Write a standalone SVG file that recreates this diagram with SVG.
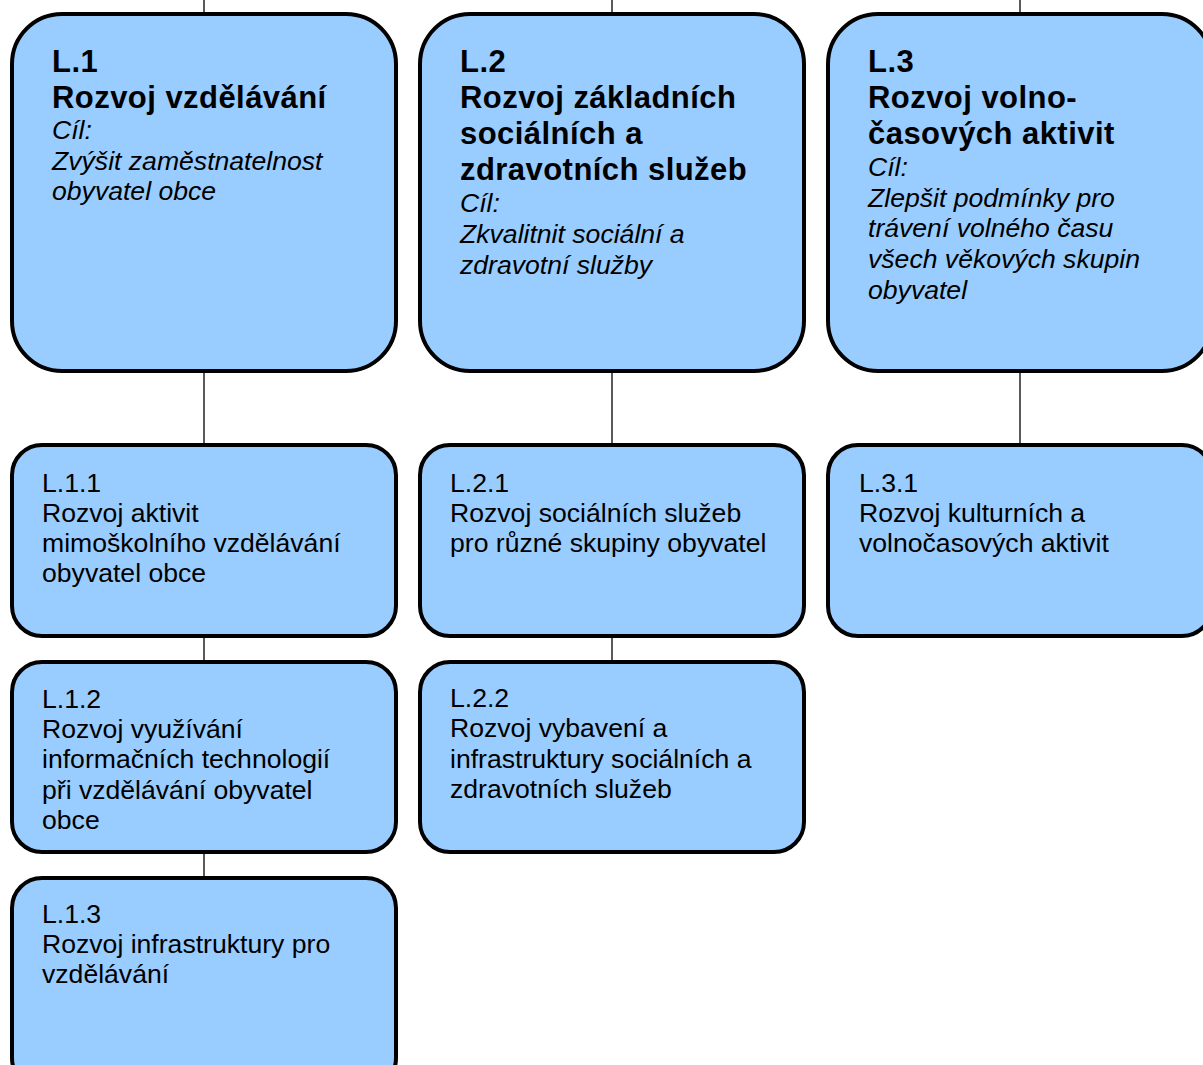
<svg xmlns="http://www.w3.org/2000/svg" width="1203" height="1065" viewBox="0 0 1203 1065">
<style>
.box{fill:#99CCFF;stroke:#000;stroke-width:4}
.ln{stroke:#000;stroke-width:1.3;fill:none}
.b{font-family:"Liberation Sans",Arial,sans-serif;font-weight:bold;font-size:31px;letter-spacing:0.45px;fill:#000}
.i{font-family:"Liberation Sans",Arial,sans-serif;font-style:italic;font-size:26.6px;fill:#000}
.n{font-family:"Liberation Sans",Arial,sans-serif;font-size:26.6px;fill:#000}
</style>
<rect width="1203" height="1065" fill="#fff"/>
<g id="connectors">
<line class="ln" x1="204" y1="0" x2="204" y2="14"/>
<line class="ln" x1="612" y1="0" x2="612" y2="14"/>
<line class="ln" x1="1020" y1="0" x2="1020" y2="14"/>
<line class="ln" x1="204" y1="371" x2="204" y2="445"/>
<line class="ln" x1="612" y1="371" x2="612" y2="445"/>
<line class="ln" x1="1020" y1="371" x2="1020" y2="445"/>
<line class="ln" x1="204" y1="636" x2="204" y2="662"/>
<line class="ln" x1="204" y1="852" x2="204" y2="878"/>
<line class="ln" x1="612" y1="636" x2="612" y2="662"/>
</g>
<g id="L1">
<rect class="box" x="12" y="14" width="384" height="357" rx="50" ry="50"/>
<text class="b" x="52" y="72">L.1</text>
<text class="b" x="52" y="108">Rozvoj vzdělávání</text>
<text class="i" x="52" y="139">Cíl:</text>
<text class="i" x="52" y="170">Zvýšit zaměstnatelnost</text>
<text class="i" x="52" y="200">obyvatel obce</text>
</g>
<g id="L2">
<rect class="box" x="420" y="14" width="384" height="357" rx="50" ry="50"/>
<text class="b" x="460" y="72">L.2</text>
<text class="b" x="460" y="108">Rozvoj základních</text>
<text class="b" x="460" y="144">sociálních a</text>
<text class="b" x="460" y="180">zdravotních služeb</text>
<text class="i" x="460" y="212">Cíl:</text>
<text class="i" x="460" y="243">Zkvalitnit sociální a</text>
<text class="i" x="460" y="274">zdravotní služby</text>
</g>
<g id="L3">
<rect class="box" x="828" y="14" width="384" height="357" rx="50" ry="50"/>
<text class="b" x="868" y="72">L.3</text>
<text class="b" x="868" y="108">Rozvoj volno-</text>
<text class="b" x="868" y="144">časových aktivit</text>
<text class="i" x="868" y="176">Cíl:</text>
<text class="i" x="868" y="207">Zlepšit podmínky pro</text>
<text class="i" x="868" y="237">trávení volného času</text>
<text class="i" x="868" y="268">všech věkových skupin</text>
<text class="i" x="868" y="299">obyvatel</text>
</g>
<g id="L11">
<rect class="box" x="12" y="445" width="384" height="191" rx="30" ry="30"/>
<text class="n" x="42" y="492">L.1.1</text>
<text class="n" x="42" y="522">Rozvoj aktivit</text>
<text class="n" x="42" y="552">mimoškolního vzdělávání</text>
<text class="n" x="42" y="582">obyvatel obce</text>
</g>
<g id="L12">
<rect class="box" x="12" y="662" width="384" height="190" rx="30" ry="30"/>
<text class="n" x="42" y="708">L.1.2</text>
<text class="n" x="42" y="738">Rozvoj využívání</text>
<text class="n" x="42" y="768">informačních technologií</text>
<text class="n" x="42" y="799">při vzdělávání obyvatel</text>
<text class="n" x="42" y="829">obce</text>
</g>
<g id="L13">
<rect class="box" x="12" y="878" width="384" height="210" rx="30" ry="30"/>
<text class="n" x="42" y="923">L.1.3</text>
<text class="n" x="42" y="953">Rozvoj infrastruktury pro</text>
<text class="n" x="42" y="983">vzdělávání</text>
</g>
<g id="L21">
<rect class="box" x="420" y="445" width="384" height="191" rx="30" ry="30"/>
<text class="n" x="450" y="492">L.2.1</text>
<text class="n" x="450" y="522">Rozvoj sociálních služeb</text>
<text class="n" x="450" y="552">pro různé skupiny obyvatel</text>
</g>
<g id="L22">
<rect class="box" x="420" y="662" width="384" height="190" rx="30" ry="30"/>
<text class="n" x="450" y="707">L.2.2</text>
<text class="n" x="450" y="737">Rozvoj vybavení a</text>
<text class="n" x="450" y="768">infrastruktury sociálních a</text>
<text class="n" x="450" y="798">zdravotních služeb</text>
</g>
<g id="L31">
<rect class="box" x="828" y="445" width="384" height="191" rx="30" ry="30"/>
<text class="n" x="859" y="492">L.3.1</text>
<text class="n" x="859" y="522">Rozvoj kulturních a</text>
<text class="n" x="859" y="552">volnočasových aktivit</text>
</g>
</svg>
